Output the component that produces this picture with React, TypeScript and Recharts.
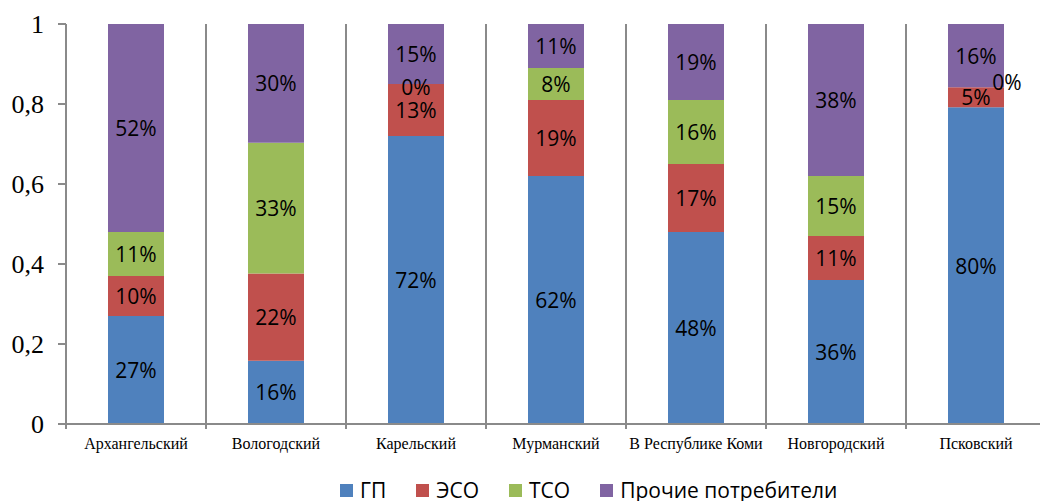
import { BarChart, Bar, XAxis, YAxis, CartesianGrid, Legend, LabelList } from 'recharts'

const categories = ['Архангельский', 'Вологодский', 'Карельский', 'Мурманский', 'В Республике Коми', 'Новгородский', 'Псковский']
const gp = [27, 16, 72, 62, 48, 36, 80]
const eso = [10, 22, 13, 19, 17, 11, 5]
const tso = [11, 33, 0, 8, 16, 15, 0]
const other = [52, 30, 15, 11, 19, 38, 16]
const yTicks = [0, 0.2, 0.4, 0.6, 0.8, 1]

const series = [
  { key: 'gp', name: 'ГП', color: '#4F81BD' },
  { key: 'eso', name: 'ЭСО', color: '#C0504D' },
  { key: 'tso', name: 'ТСО', color: '#9BBB59' },
  { key: 'other', name: 'Прочие потребители', color: '#8064A2' },
]

const data = categories.map((name, i) => ({
  name,
  gp: gp[i],
  eso: eso[i],
  tso: tso[i],
  other: other[i],
}))

const GRID = '#8a8a8a'
const SANS = '"Open Sans", "Noto Sans", sans-serif'
const SERIF = '"Liberation Serif", "DejaVu Serif", serif'

function labelText(key: string, x: number, y: number, value: number) {
  return (
    <text key={key} x={x} y={y} textAnchor="middle" dominantBaseline="central" fontFamily={SANS} fontSize={21} fill="#000">
      {value}%
    </text>
  )
}

function rectOf(props: any) {
  return props.viewBox && props.viewBox.width !== undefined ? props.viewBox : props
}

function PctLabel(props: any) {
  const { x, y, width, height } = rectOf(props)
  if (!props.value) return null
  return labelText('v', x + width / 2, y + height / 2, props.value)
}

// ЭСО labels also carry the zero ТСО labels (zero-height bars get no label of their own)
function EsoLabel(props: any) {
  const { x, y, width, height } = rectOf(props)
  const i = props.index
  const out = [labelText('v', x + width / 2, y + height / 2, props.value)]
  if (tso[i] === 0) {
    const last = i === categories.length - 1
    out.push(labelText('z', x + width / 2 + (last ? 31 : 0), y + (last ? -5 : 3), 0))
  }
  return <g>{out}</g>
}

function BoundaryLine(p: any) {
  const top = Math.min(p.y1, p.y2)
  const bottom = Math.max(p.y1, p.y2)
  return <line key={p.key ?? p.x1} x1={p.x1} x2={p.x2} y1={top} y2={bottom + 5} stroke={GRID} strokeWidth={2} />
}

function LegendContent() {
  return (
    <div style={{ height: 22, display: 'flex', alignItems: 'center', paddingLeft: 340, fontFamily: SANS, fontSize: 21, lineHeight: '22px', color: '#000' }}>
      {series.map((s) => (
        <div key={s.key} style={{ display: 'flex', alignItems: 'center', marginRight: 30 }}>
          <span style={{ width: 13, height: 13, background: s.color, display: 'inline-block', marginRight: 7 }} />
          <span>{s.name}</span>
        </div>
      ))}
    </div>
  )
}

export default function App() {
  return (
    <div style={{ position: 'fixed', left: 0, top: 0, width: 1040, height: 501, overflow: 'hidden', background: '#fff' }}>
      <BarChart
        width={1060}
        height={501}
        data={data}
        stackOffset="expand"
        barSize={56}
        margin={{ top: 24, right: 14, left: 0, bottom: 0 }}
      >
        <CartesianGrid
          horizontal={false}
          vertical={BoundaryLine}
          verticalCoordinatesGenerator={({ offset }: any) =>
            categories.map((_, i) => offset.left + ((i + 1) * offset.width) / categories.length).concat([offset.left])
          }
        />
        <XAxis
          dataKey="name"
          height={55}
          tickLine={false}
          tickSize={6}
          tickMargin={8}
          axisLine={{ stroke: GRID, strokeWidth: 2 }}
          tick={{ fontFamily: SERIF, fontSize: 16, fill: '#000' }}
          interval={0}
        />
        <YAxis
          width={66}
          ticks={yTicks}
          domain={[0, 1]}
          tickSize={8}
          tickMargin={14}
          tickFormatter={(v: number) => String(v).replace('.', ',')}
          axisLine={{ stroke: GRID, strokeWidth: 2 }}
          tickLine={{ stroke: GRID, strokeWidth: 2 }}
          tick={{ fontFamily: SERIF, fontSize: 26, fill: '#000' }}
        />
        {series.map((s) => (
          <Bar key={s.key} dataKey={s.key} name={s.name} stackId="a" fill={s.color} isAnimationActive={false}>
            <LabelList dataKey={s.key} content={s.key === 'eso' ? EsoLabel : PctLabel} />
          </Bar>
        ))}
        <Legend verticalAlign="bottom" content={LegendContent} />
      </BarChart>
    </div>
  )
}
